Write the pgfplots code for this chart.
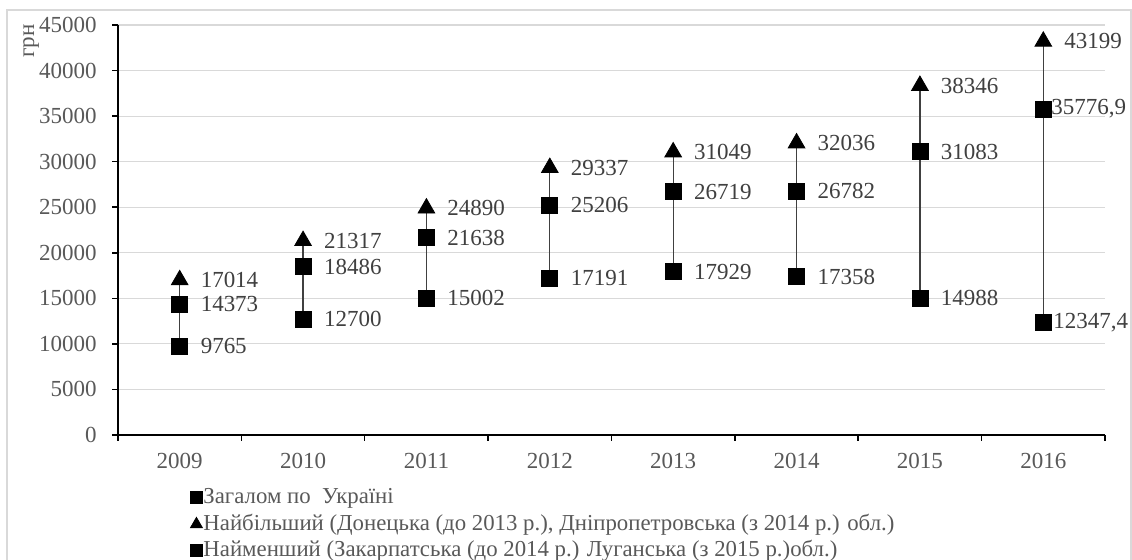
\documentclass[border=0pt]{standalone}
\usepackage{pgfplots}
\pgfplotsset{compat=1.18}
\usepackage{pgfplotstable}
\usepackage{fontspec}
\setmainfont{Liberation Serif}
\definecolor{tickgray}{HTML}{595959}
\definecolor{labgray}{HTML}{404040}
\definecolor{gridgray}{HTML}{D9D9D9}

\pgfplotstableread{
x y lab dx
0 14373 14373 7
1 18486 18486 7
2 21638 21638 7
3 25206 25206 7
4 26719 26719 7
5 26782 26782 7
6 31083 31083 7
7 35776.9 35776,9 0.5
}\total
\pgfplotstableread{
x y lab dx
0 17014 17014 7
1 21317 21317 7
2 24890 24890 7
3 29337 29337 7
4 31049 31049 7
5 32036 32036 7
6 38346 38346 7
7 43199 43199 7
}\maxv
\pgfplotstableread{
x y lab dx
0 9765 9765 7
1 12700 12700 7
2 15002 15002 7
3 17191 17191 7
4 17929 17929 7
5 17358 17358 7
6 14988 14988 7
7 12347.4 12347,4 1.5
}\minv

\begin{document}
\begin{tikzpicture}
\useasboundingbox (0,0) rectangle (566pt,280pt);
\fill[white] (0,0) rectangle (566pt,280pt);
\begin{axis}[
  at={(59pt,62.5pt)}, anchor=south west,
  scale only axis, width=493.5pt, height=205pt,
  xmin=-0.5, xmax=7.5, ymin=0, ymax=45000,
  axis lines*=left,
  axis line style={black, line width=0.75pt},
  tick align=outside,
  major tick length=2.8pt,
  tick style={black, line width=0.75pt},
  ytick={0,5000,...,45000},
  scaled y ticks=false,
  ymajorgrids,
  grid style={gridgray, line width=0.6pt},
  xtick={-0.5,0.5,...,7.5},
  xticklabels={,,,,,,,,,},
  extra x ticks={0,1,2,3,4,5,6,7},
  extra x tick labels={2009,2010,2011,2012,2013,2014,2015,2016},
  extra x tick style={major tick length=0pt, tick style={draw=none}, xticklabel style={yshift=-5.5pt}},
  /pgf/number format/assume math mode=true,
  /pgf/number format/1000 sep={},
  ticklabel style={font=\fontsize{11.5}{13}\selectfont, text=tickgray},
  yticklabel style={xshift=-4.3pt},
  ylabel={грн},
  every axis y label/.style={at={(rel axis cs:-0.088,0.961)}, rotate=90, anchor=center, font=\fontsize{11.5}{13}\selectfont, text=tickgray},
  unbounded coords=jump,
  legend image code/.code={\draw[#1] plot coordinates {(0.1cm,0cm)};},
  legend style={at={(rel axis cs:0.073,-0.123)}, anchor=north west, draw=none, fill=none, inner sep=0pt,
    font=\fontsize{11.4}{13}\selectfont, text=tickgray,
    nodes={text height=8.5pt, text depth=2.5pt, inner sep=0.5pt},
    row sep=1.2pt},
  legend cell align=left,
  clip=false,
]
\addplot[labgray, line width=0.6pt, no marks, forget plot] coordinates {
 (0,9765) (0,17014) (0,nan)
 (1,12700) (1,21317) (1,nan)
 (2,15002) (2,24890) (2,nan)
 (3,17191) (3,29337) (3,nan)
 (4,17929) (4,31049) (4,nan)
 (5,17358) (5,32036) (5,nan)
 (6,14988) (6,38346) (6,nan)
 (7,12347.4) (7,43199)
};
\addplot[only marks, mark=square*, mark size=4pt, black, forget plot,
  point meta=explicit symbolic,
  visualization depends on={\thisrow{dx} \as \dx},
  nodes near coords,
  every node near coord/.append style={anchor=west, xshift=\dx pt, yshift=0pt, font=\fontsize{11.5}{13}\selectfont, text=labgray}]
  table[x=x, y=y, meta=lab] {\total};
\addplot[only marks, mark=triangle*, mark size=4.8pt, black, forget plot,
  point meta=explicit symbolic,
  visualization depends on={\thisrow{dx} \as \dx},
  nodes near coords,
  every node near coord/.append style={anchor=west, xshift=\dx pt, yshift=0pt, font=\fontsize{11.5}{13}\selectfont, text=labgray}]
  table[x=x, y=y, meta=lab] {\maxv};
\addplot[only marks, mark=square*, mark size=4pt, black, forget plot,
  point meta=explicit symbolic,
  visualization depends on={\thisrow{dx} \as \dx},
  nodes near coords,
  every node near coord/.append style={anchor=west, xshift=\dx pt, yshift=0pt, font=\fontsize{11.5}{13}\selectfont, text=labgray}]
  table[x=x, y=y, meta=lab] {\minv};
\addlegendimage{black, mark=square*, mark size=3pt}
\addlegendentry{Загалом по\ \ Україні}
\addlegendimage{black, mark=triangle*, mark size=3.4pt}
\addlegendentry{Найбільший (Донецька (до 2013 р.), Дніпропетровська (з 2014 р.) обл.)}
\addlegendimage{black, mark=square*, mark size=3pt}
\addlegendentry{Найменший (Закарпатська (до 2014 р.) Луганська (з 2015 р.)обл.)}
\end{axis}
\draw[gridgray, line width=0.6pt] (3.5pt,0) -- (3.5pt,275pt) -- (565.5pt,275pt) -- (565.5pt,0);
\end{tikzpicture}
\end{document}
